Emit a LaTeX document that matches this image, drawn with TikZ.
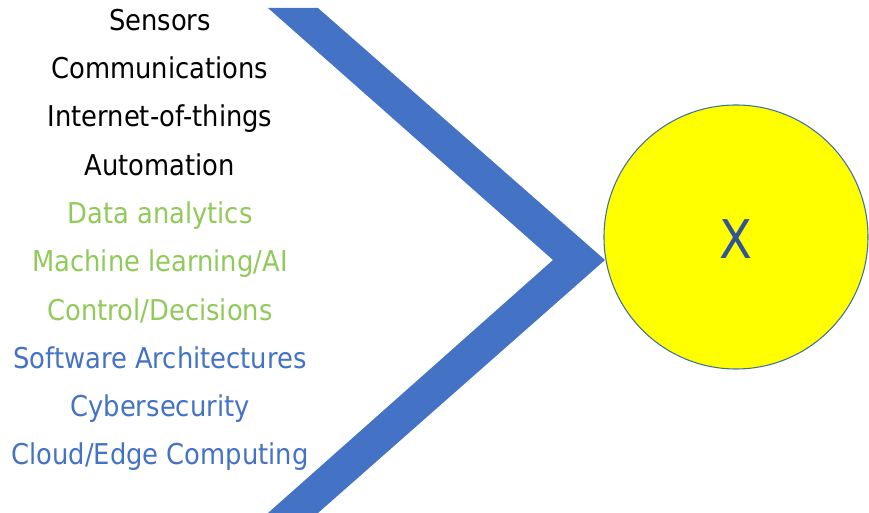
\documentclass[tikz,border=0pt]{standalone}
\usepackage{fontspec}
\setmainfont{DejaVu Sans Condensed}
\usepackage{tikz}

\definecolor{chevblue}{HTML}{4472C4}
\definecolor{itemgreen}{HTML}{92C95B}
\definecolor{xblue}{HTML}{2F5597}
\definecolor{rimblue}{HTML}{41719C}
\definecolor{goalfill}{HTML}{FFFF00}

\tikzset{
  item/.style={anchor=base, inner sep=0pt, font=\fontsize{21.5}{24}\selectfont},
  hw/.style={item, text=black},
  ds/.style={item, text=itemgreen},
  sw/.style={item, text=chevblue}
}

\begin{document}
\begin{tikzpicture}[x=0.75pt,y=-0.75pt]
\useasboundingbox (0,0) rectangle (869,513);
\fill[chevblue] (268,8) -- (318,8) -- (605,260) -- (318,513) -- (268,513) -- (553,260) -- cycle;
\node[circle, draw=rimblue, line width=0.8pt, fill=goalfill, minimum size=264*0.75pt, inner sep=0pt] (goal) at (736,237) {};
\node[anchor=base, inner sep=0pt, text=xblue, font=\fontsize{40}{44}\selectfont] (x) at (736,259) {X};
\node[hw] (sensors) at (160,31) {Sensors};
\node[hw] (comms) at (160,79) {Communications};
\node[hw] (iot) at (160,127) {Internet-of-things};
\node[hw] (auto) at (160,176) {Automation};
\node[ds] (data) at (160,224) {Data analytics};
\node[ds] (ml) at (160,272) {Machine learning/AI};
\node[ds] (ctrl) at (160,321) {Control/Decisions};
\node[sw] (arch) at (160,369) {Software Architectures};
\node[sw] (cyber) at (160,417) {Cybersecurity};
\node[sw] (cloud) at (160,465) {Cloud/Edge Computing};
\end{tikzpicture}
\end{document}
